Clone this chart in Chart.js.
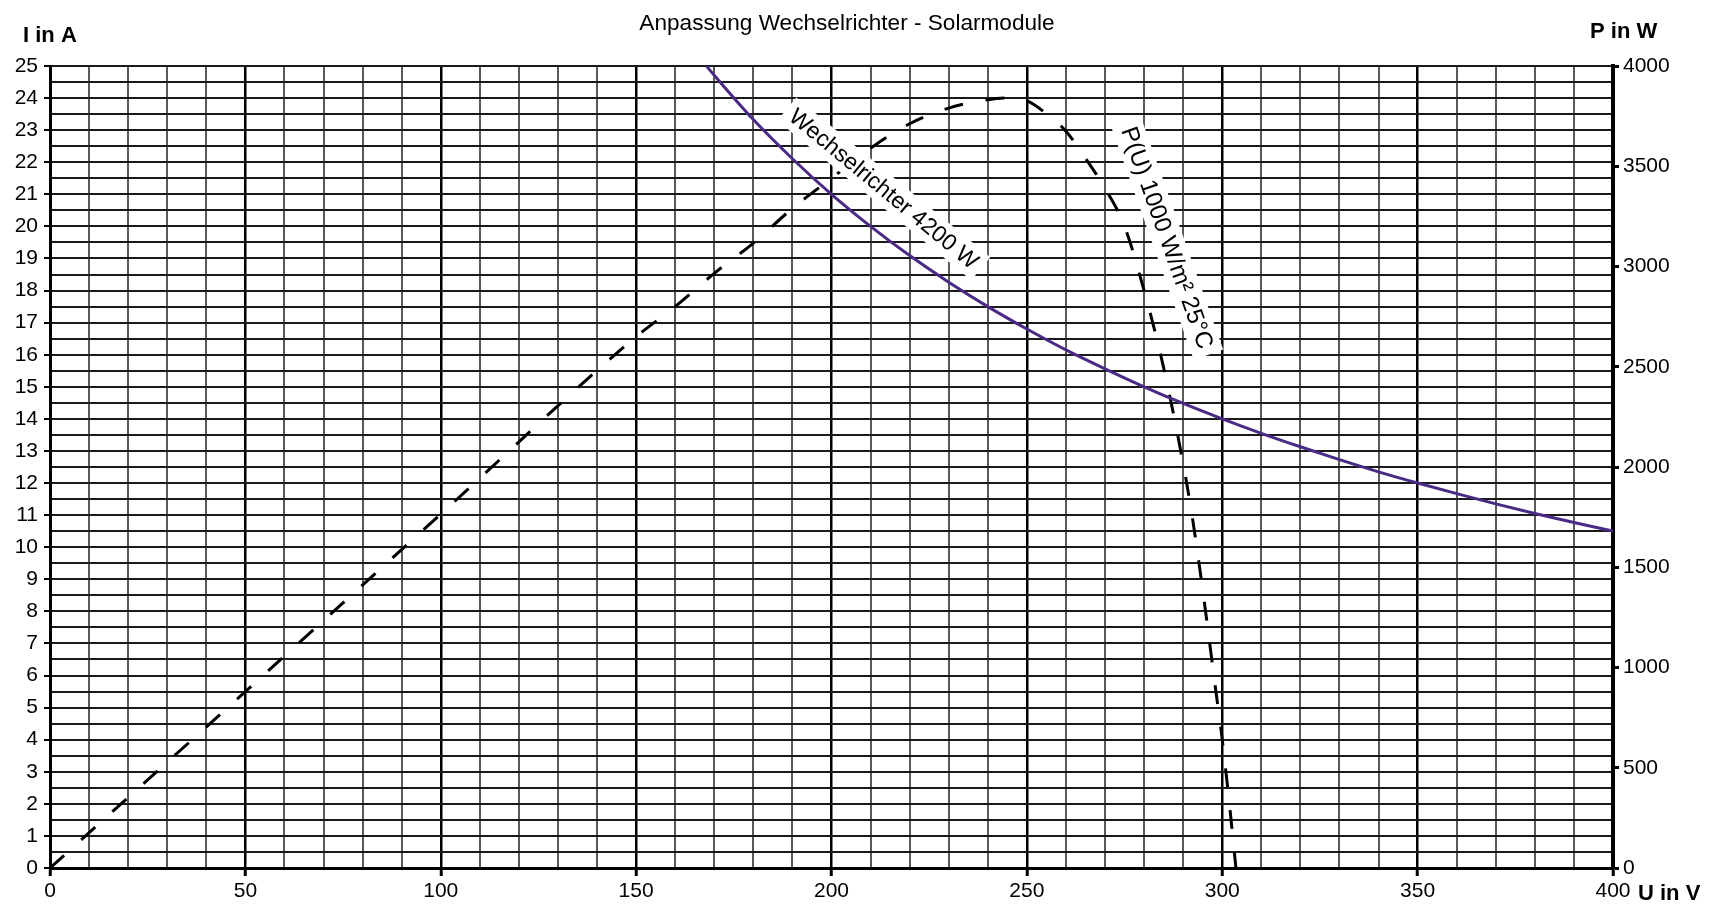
<!DOCTYPE html>
<html>
<head>
<meta charset="utf-8">
<title>Anpassung Wechselrichter - Solarmodule</title>
<script src="https://cdn.jsdelivr.net/npm/chart.js@4/dist/chart.umd.min.js"></script>
<style>
  html, body { margin: 0; padding: 0; background: #fff; }
  #wrap { width: 1718px; height: 908px; }
</style>
</head>
<body>
<div id="wrap"><canvas id="chart" width="1718" height="908"></canvas></div>
<script>
// Wechselrichter-Kennlinie (konstante Leistung 4200 W): Spannung U in V, Strom I in A
const U_INV = [168, 170, 180, 190, 200, 210, 220, 230, 240, 250, 260, 270, 280, 290,
               300, 310, 320, 330, 340, 350, 360, 370, 380, 390, 400];
const I_INV = [25.00, 24.71, 23.33, 22.11, 21.00, 20.00, 19.09, 18.26, 17.50, 16.80, 16.15,
               15.56, 15.00, 14.48, 14.00, 13.55, 13.13, 12.73, 12.35, 12.00, 11.67, 11.35,
               11.05, 10.77, 10.50];

// Leistungskennlinie der Solarmodule bei 1000 W/m² und 25 °C: Spannung U in V, Leistung P in W
const U_PV = [0, 50, 100, 150, 160, 170, 180, 190, 200, 210, 220, 230, 240, 245, 250, 255,
              260, 265, 270, 275, 280, 285, 290, 292, 294, 296, 298, 300, 302, 303.5];
const P_PV = [0, 880, 1765, 2650, 2800, 2966, 3117, 3290, 3440, 3590, 3712, 3790, 3832, 3840,
              3826, 3762, 3675, 3540, 3390, 3200, 2880, 2495, 2016, 1792, 1528, 1240, 936,
              640, 288, 0];

// Achsen
const U_RANGE = [0, 400];     // V
const I_RANGE = [0, 25];      // A
const P_RANGE = [0, 4000];    // W
const U_LABEL_STEP = 50;
const P_LABEL_STEP = 500;

const FONT = '"Liberation Sans", Arial, Helvetica, sans-serif';

const curveLabels = [
  { text: 'Wechselrichter 4200 W', u: 213.4, i: 21.17, angle: 39.5, size: 23 },
  { text: 'P(U) 1000 W/m² 25°C',   u: 285.9, i: 19.64, angle: 70.5, size: 24 }
];

const textPlugin = {
  id: 'chartTexts',
  afterDatasetsDraw(chart) {
    const { ctx, scales } = chart;
    ctx.save();
    curveLabels.forEach(l => {
      const x = scales.x.getPixelForValue(l.u);
      const y = scales.yI.getPixelForValue(l.i);
      ctx.font = l.size + 'px ' + FONT;
      const w = ctx.measureText(l.text).width;
      const h = l.size * 1.3;
      ctx.save();
      ctx.translate(x, y);
      ctx.rotate(l.angle * Math.PI / 180);
      ctx.fillStyle = '#fff';
      ctx.fillRect(-w / 2 - 7, -h / 2, w + 14, h);
      ctx.fillStyle = '#000';
      ctx.textAlign = 'center';
      ctx.textBaseline = 'middle';
      ctx.fillText(l.text, 0, 1);
      ctx.restore();
    });
    ctx.restore();
  },
  afterDraw(chart) {
    const { ctx } = chart;
    ctx.save();
    ctx.fillStyle = '#000';
    ctx.textBaseline = 'alphabetic';
    ctx.font = '22.6px ' + FONT;
    ctx.textAlign = 'center';
    ctx.fillText('Anpassung Wechselrichter - Solarmodule', 847, 30);
    ctx.font = 'bold 22px ' + FONT;
    ctx.textAlign = 'left';
    ctx.fillText('I in A', 23, 42);
    ctx.fillText('P in W', 1590, 38);
    ctx.fillText('U in V', 1638, 900);
    ctx.restore();
  }
};

new Chart(document.getElementById('chart'), {
  type: 'line',
  data: {
    datasets: [
      {
        label: 'Wechselrichter 4200 W',
        data: U_INV.map((u, k) => ({ x: u, y: I_INV[k] })),
        yAxisID: 'yI',
        borderColor: '#4b2a85',
        borderWidth: 3,
        pointRadius: 0,
        cubicInterpolationMode: 'monotone',
        fill: false
      },
      {
        label: 'P(U) 1000 W/m² 25°C',
        data: U_PV.map((u, k) => ({ x: u, y: P_PV[k] })),
        yAxisID: 'yP',
        borderColor: '#000',
        borderWidth: 3,
        borderDash: [19, 23],
        borderCapStyle: 'butt',
        pointRadius: 0,
        cubicInterpolationMode: 'monotone',
        fill: false
      }
    ]
  },
  options: {
    responsive: false,
    animation: false,
    devicePixelRatio: 1,
    layout: { padding: { top: 66, left: 0, right: 0, bottom: 0 } },
    plugins: {
      legend: { display: false },
      title: { display: false },
      tooltip: { enabled: false }
    },
    scales: {
      x: {
        type: 'linear',
        min: U_RANGE[0], max: U_RANGE[1],
        afterFit(s) { s.height = 40; },
        ticks: {
          stepSize: 10,
          autoSkip: false,
          maxRotation: 0,
          padding: 3,
          color: '#000',
          font: { family: FONT, size: 21 },
          callback: v => (v % U_LABEL_STEP === 0 ? String(v) : '')
        },
        grid: {
          color: c => (c.tick && c.tick.value % U_LABEL_STEP === 0 ? '#000' : '#5a5a5a'),
          lineWidth: c => (c.tick && c.tick.value % U_LABEL_STEP === 0 ? 2.5 : 2),
          tickColor: c => (c.tick && c.tick.value % U_LABEL_STEP === 0 ? '#000' : 'rgba(0,0,0,0)'),
          tickWidth: 3,
          tickLength: 8
        },
        border: { display: true, color: '#000', width: 3 }
      },
      yI: {
        type: 'linear',
        position: 'left',
        min: I_RANGE[0], max: I_RANGE[1],
        afterFit(s) { s.width = 50; },
        ticks: {
          stepSize: 0.5,
          autoSkip: false,
          padding: 6,
          color: '#000',
          font: { family: FONT, size: 21 },
          callback: v => (Number.isInteger(v) ? String(v) : '')
        },
        grid: {
          color: '#1a1a1a',
          lineWidth: 2,
          tickColor: c => (c.tick && Number.isInteger(c.tick.value) ? '#000' : 'rgba(0,0,0,0)'),
          tickWidth: 2,
          tickLength: 6
        },
        border: { display: true, color: '#000', width: 3 }
      },
      yP: {
        type: 'linear',
        position: 'right',
        min: P_RANGE[0], max: P_RANGE[1],
        afterFit(s) { s.width = 105; },
        ticks: {
          stepSize: P_LABEL_STEP,
          autoSkip: false,
          padding: 4,
          color: '#000',
          font: { family: FONT, size: 21 },
          callback: v => String(v)
        },
        grid: {
          drawOnChartArea: false,
          tickColor: '#000',
          tickWidth: 3,
          tickLength: 6
        },
        border: { display: true, color: '#000', width: 4 }
      }
    }
  },
  plugins: [textPlugin]
});
</script>
</body>
</html>
